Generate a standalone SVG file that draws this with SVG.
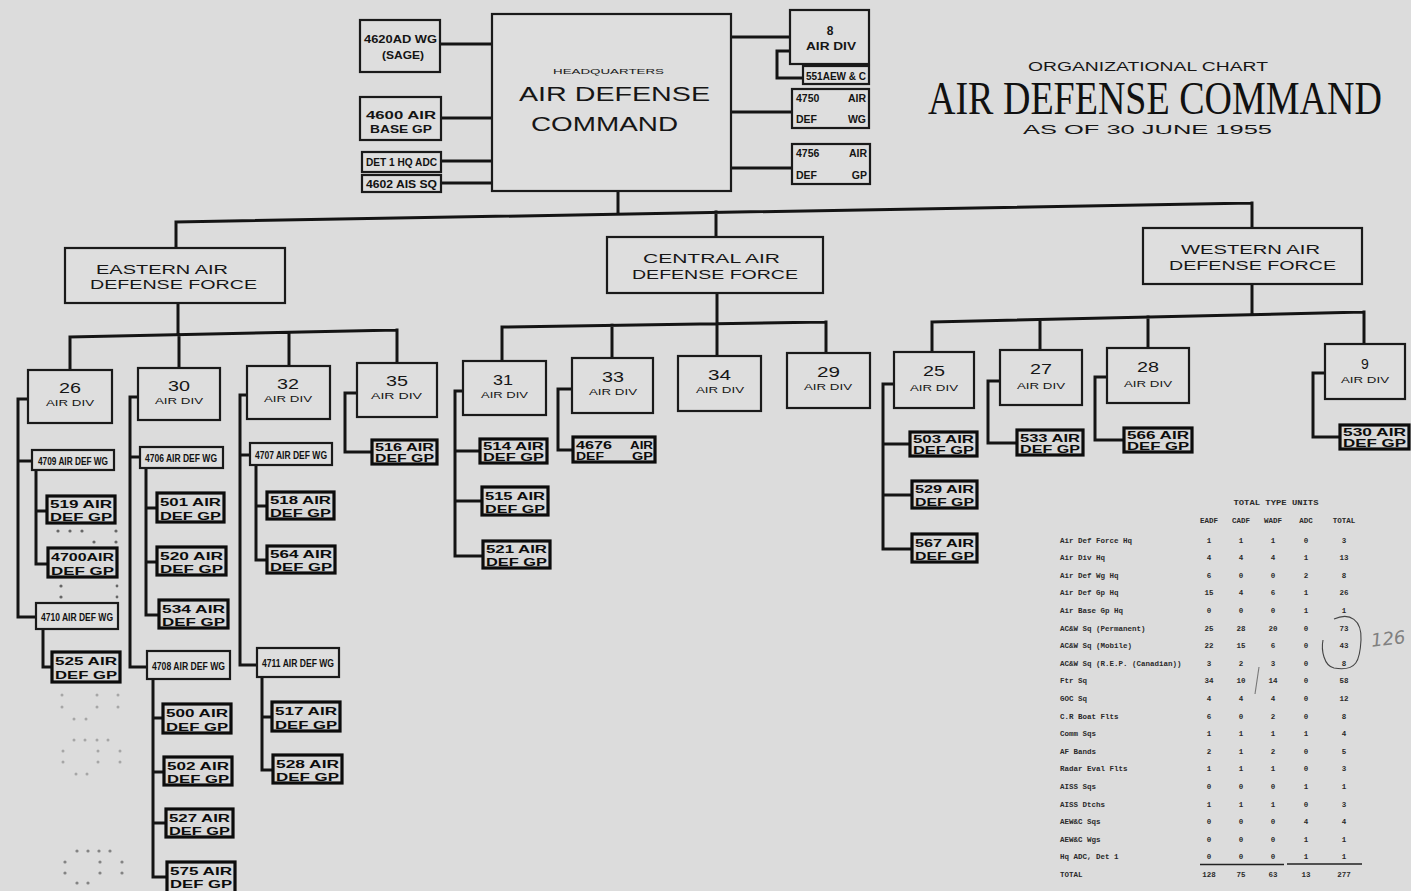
<svg xmlns="http://www.w3.org/2000/svg" width="1411" height="891" viewBox="0 0 1411 891">
<style>
.ln{fill:none;stroke:#141414;stroke-width:3;stroke-linecap:square;stroke-linejoin:miter}
.bx{fill:#dedede;stroke:#1a1a1a;stroke-width:2.2}
.gp{fill:#d9d9d9;stroke:#0c0c0c;stroke-width:3.2}
.t{font-family:"Liberation Sans",Arial,sans-serif;fill:#161616}
.num{font-size:14px}
.dv{font-size:9.5px}
.lb{font-size:13.5px}
.g1{font-family:"Liberation Sans",Arial,sans-serif;font-weight:bold;font-size:11.6px;fill:#0c0c0c}
.g2{font-family:"Liberation Sans",Arial,sans-serif;font-weight:bold;font-size:10.6px;fill:#0c0c0c}
.wg{font-family:"Liberation Sans Narrow","Liberation Sans",Arial,sans-serif;font-weight:bold;font-size:11px;fill:#111}
.sm{font-family:"Liberation Sans",Arial,sans-serif;font-size:10.5px;fill:#141414}
.tb{font-family:"Liberation Mono","Courier New",monospace;font-weight:bold;font-size:7.5px;fill:#2a2a2a}
.dot{fill:#666}
</style>
<rect width="1411" height="891" fill="#dcdcdc"/>

<g id="connectors">
<path class="ln" d="M440,44H492 M441,118H492 M441,161H492 M441,183H492 M731,37H790 M790,51H777V78H803 M731,112H792 M731,168H792 M618,191V214 M176,222L1252,203 M176,222V248 M716,212V237 M1252,203V228"/>
<path class="ln" d="M178,303V334 M70,337L397,330 M70,337V370 M179,335V368 M289,332.6V366 M397,330V363"/>
<path class="ln" d="M28,399H18V617H36 M18,461H32 M36,470V564H48 M36,511H47 M43,629V667H52"/>
<path class="ln" d="M138,397H130V667H147 M130,457H140 M146,468V615H159 M146,508H157 M146,562H157 M153,679V877H167 M153,718H163 M153,772H164 M153,823H166"/>
<path class="ln" d="M247,395H240V665H257 M240,455H250 M256,465V560H267 M256,506H267 M262,677V770H273 M262,717H272"/>
<path class="ln" d="M357,393H345V452H372"/>
<path class="ln" d="M717,293V325 M502,327L826,322 M502,327V361 M612,325.3V358 M717,323.7V356 M826,322V353 M463,391H455V556H483 M455,451H480 M455,501H482 M572,389H558V450H573"/>
<path class="ln" d="M1252,284V314 M932,322L1364,312 M932,322V352 M1040,319.5V350 M1148,317V348 M1364,312V344 M894,384H883V549H912 M883,444H910 M883,495H912 M1000,381H988V443H1017 M1107,377H1095V440H1124 M1325,373H1313V437H1340"/>
</g>

<g id="hq"><rect class="bx" x="492" y="14" width="239" height="177"/>
<text class="t" x="553" y="74" font-size="8" textLength="111" lengthAdjust="spacingAndGlyphs">HEADQUARTERS</text>
<text class="t" x="519" y="101" font-size="20" textLength="191" lengthAdjust="spacingAndGlyphs">AIR DEFENSE</text>
<text class="t" x="531" y="131" font-size="20" textLength="147" lengthAdjust="spacingAndGlyphs">COMMAND</text></g>

<g id="wg4620"><rect class="bx" x="360" y="20" width="80" height="52"/>
<text class="sm" x="364" y="43" font-weight="bold" textLength="73" lengthAdjust="spacingAndGlyphs">4620AD WG</text>
<text class="sm" x="382" y="59" font-weight="bold" textLength="42" lengthAdjust="spacingAndGlyphs">(SAGE)</text></g>
<g id="gp4600"><rect class="bx" x="360" y="97" width="81" height="43"/>
<text class="sm" x="366" y="119" font-weight="bold" textLength="70" lengthAdjust="spacingAndGlyphs">4600 AIR</text>
<text class="sm" x="370" y="133" font-weight="bold" textLength="62" lengthAdjust="spacingAndGlyphs">BASE GP</text></g>
<g id="det1"><rect class="bx" x="362" y="152" width="79" height="20"/>
<text class="wg" x="366" y="166" textLength="71" lengthAdjust="spacingAndGlyphs">DET 1 HQ ADC</text></g>
<g id="sq4602"><rect class="bx" x="362" y="175" width="79" height="17"/>
<text class="wg" x="366" y="188" font-size="10.5" textLength="71" lengthAdjust="spacingAndGlyphs">4602 AIS SQ</text></g>

<g id="div8"><rect class="bx" x="790" y="10" width="79" height="54"/>
<text class="t" x="830" y="35" font-size="12" font-weight="bold" text-anchor="middle">8</text>
<text class="t" x="806" y="50" font-size="11" font-weight="bold" textLength="50" lengthAdjust="spacingAndGlyphs">AIR DIV</text></g>
<g id="aew551"><rect class="bx" x="803" y="66" width="66" height="18"/>
<text class="wg" x="806" y="80" font-size="10.5" textLength="60" lengthAdjust="spacingAndGlyphs">551AEW &amp; C</text></g>
<g id="wg4750"><rect class="bx" x="792" y="89" width="77" height="39"/>
<text class="sm" x="796" y="102" font-weight="bold">4750</text><text class="sm" x="866" y="102" font-weight="bold" text-anchor="end">AIR</text>
<text class="sm" x="796" y="123" font-weight="bold">DEF</text><text class="sm" x="866" y="123" font-weight="bold" text-anchor="end">WG</text></g>
<g id="gp4756"><rect class="bx" x="792" y="144" width="78" height="40"/>
<text class="sm" x="796" y="157" font-weight="bold">4756</text><text class="sm" x="867" y="157" font-weight="bold" text-anchor="end">AIR</text>
<text class="sm" x="796" y="179" font-weight="bold">DEF</text><text class="sm" x="867" y="179" font-weight="bold" text-anchor="end">GP</text></g>

<g id="title">
<text class="t" x="1028" y="70.5" font-size="12.5" textLength="240" lengthAdjust="spacingAndGlyphs">ORGANIZATIONAL CHART</text>
<text transform="translate(928 114) scale(1 1.2)" x="0" y="0" font-family="'Liberation Serif','Times New Roman',serif" font-size="38" fill="#111">AIR DEFENSE COMMAND</text>
<text class="t" x="1023" y="134" font-size="13.5" textLength="249" lengthAdjust="spacingAndGlyphs">AS OF 30 JUNE 1955</text>
</g>

<g id="eadf"><rect class="bx" x="65" y="248" width="220" height="55"/>
<text class="t lb" x="96" y="274" textLength="132" lengthAdjust="spacingAndGlyphs">EASTERN AIR</text>
<text class="t lb" x="90" y="289" textLength="167" lengthAdjust="spacingAndGlyphs">DEFENSE FORCE</text></g>
<g id="cadf"><rect class="bx" x="607" y="237" width="216" height="56"/>
<text class="t lb" x="643" y="263" textLength="137" lengthAdjust="spacingAndGlyphs">CENTRAL AIR</text>
<text class="t lb" x="632" y="279" textLength="166" lengthAdjust="spacingAndGlyphs">DEFENSE FORCE</text></g>
<g id="wadf"><rect class="bx" x="1143" y="228" width="219" height="56"/>
<text class="t lb" x="1181" y="254" textLength="139" lengthAdjust="spacingAndGlyphs">WESTERN AIR</text>
<text class="t lb" x="1169" y="270" textLength="167" lengthAdjust="spacingAndGlyphs">DEFENSE FORCE</text></g>

<g id="div26"><rect class="bx" x="28" y="370" width="84" height="53"/><text class="t num" x="59" y="393" textLength="22" lengthAdjust="spacingAndGlyphs">26</text><text class="t dv" x="46" y="406" textLength="48" lengthAdjust="spacingAndGlyphs">AIR DIV</text></g>
<g id="div30"><rect class="bx" x="138" y="368" width="82" height="52"/><text class="t num" x="168" y="391" textLength="22" lengthAdjust="spacingAndGlyphs">30</text><text class="t dv" x="155" y="404" textLength="48" lengthAdjust="spacingAndGlyphs">AIR DIV</text></g>
<g id="div32"><rect class="bx" x="247" y="366" width="83" height="53"/><text class="t num" x="277" y="389" textLength="22" lengthAdjust="spacingAndGlyphs">32</text><text class="t dv" x="264" y="402" textLength="48" lengthAdjust="spacingAndGlyphs">AIR DIV</text></g>
<g id="div35"><rect class="bx" x="357" y="363" width="80" height="54"/><text class="t num" x="386" y="386" textLength="22" lengthAdjust="spacingAndGlyphs">35</text><text class="t dv" x="371" y="399" textLength="51" lengthAdjust="spacingAndGlyphs">AIR DIV</text></g>
<g id="div31"><rect class="bx" x="463" y="361" width="83" height="54"/><text class="t num" x="493" y="385" textLength="20" lengthAdjust="spacingAndGlyphs">31</text><text class="t dv" x="481" y="398" textLength="47" lengthAdjust="spacingAndGlyphs">AIR DIV</text></g>
<g id="div33"><rect class="bx" x="572" y="358" width="81" height="55"/><text class="t num" x="602" y="382" textLength="22" lengthAdjust="spacingAndGlyphs">33</text><text class="t dv" x="589" y="395" textLength="48" lengthAdjust="spacingAndGlyphs">AIR DIV</text></g>
<g id="div34"><rect class="bx" x="678" y="356" width="83" height="55"/><text class="t num" x="708" y="380" textLength="23" lengthAdjust="spacingAndGlyphs">34</text><text class="t dv" x="696" y="393" textLength="48" lengthAdjust="spacingAndGlyphs">AIR DIV</text></g>
<g id="div29"><rect class="bx" x="787" y="353" width="83" height="55"/><text class="t num" x="817" y="377" textLength="23" lengthAdjust="spacingAndGlyphs">29</text><text class="t dv" x="804" y="390" textLength="48" lengthAdjust="spacingAndGlyphs">AIR DIV</text></g>
<g id="div25"><rect class="bx" x="894" y="352" width="80" height="56"/><text class="t num" x="923" y="376" textLength="22" lengthAdjust="spacingAndGlyphs">25</text><text class="t dv" x="910" y="391" textLength="48" lengthAdjust="spacingAndGlyphs">AIR DIV</text></g>
<g id="div27"><rect class="bx" x="1000" y="350" width="82" height="55"/><text class="t num" x="1030" y="374" textLength="22" lengthAdjust="spacingAndGlyphs">27</text><text class="t dv" x="1017" y="389" textLength="48" lengthAdjust="spacingAndGlyphs">AIR DIV</text></g>
<g id="div28"><rect class="bx" x="1107" y="348" width="82" height="55"/><text class="t num" x="1137" y="372" textLength="22" lengthAdjust="spacingAndGlyphs">28</text><text class="t dv" x="1124" y="387" textLength="48" lengthAdjust="spacingAndGlyphs">AIR DIV</text></g>
<g id="div9"><rect class="bx" x="1325" y="344" width="80" height="55"/><text class="t num" x="1365" y="369" text-anchor="middle">9</text><text class="t dv" x="1341" y="383" textLength="48" lengthAdjust="spacingAndGlyphs">AIR DIV</text></g>

<g id="wg4709"><rect class="bx" x="32" y="450" width="82" height="20"/><text class="wg" x="38" y="465" textLength="70" lengthAdjust="spacingAndGlyphs">4709 AIR DEF WG</text></g>
<g id="wg4710"><rect class="bx" x="36" y="603" width="82" height="26"/><text class="wg" x="41" y="621" textLength="72" lengthAdjust="spacingAndGlyphs">4710 AIR DEF WG</text></g>
<g id="wg4706"><rect class="bx" x="140" y="447" width="83" height="21"/><text class="wg" x="145" y="462" textLength="72" lengthAdjust="spacingAndGlyphs">4706 AIR DEF WG</text></g>
<g id="wg4708"><rect class="bx" x="147" y="651" width="83" height="28"/><text class="wg" x="152" y="670" textLength="73" lengthAdjust="spacingAndGlyphs">4708 AIR DEF WG</text></g>
<g id="wg4707"><rect class="bx" x="250" y="443" width="82" height="22"/><text class="wg" x="255" y="459" textLength="72" lengthAdjust="spacingAndGlyphs">4707 AIR DEF WG</text></g>
<g id="wg4711"><rect class="bx" x="257" y="648" width="82" height="29"/><text class="wg" x="262" y="667" textLength="72" lengthAdjust="spacingAndGlyphs">4711 AIR DEF WG</text></g>

<g id="gp519"><rect class="gp" x="47" y="496" width="68" height="27"/><text class="g1" x="50" y="508" textLength="62" lengthAdjust="spacingAndGlyphs">519 AIR</text><text class="g1" x="50" y="521" textLength="62" lengthAdjust="spacingAndGlyphs">DEF GP</text></g>
<g id="gp4700"><rect class="gp" x="48" y="548" width="69" height="29"/><text class="g1" x="51" y="561" textLength="63" lengthAdjust="spacingAndGlyphs">4700AIR</text><text class="g1" x="51" y="575" textLength="63" lengthAdjust="spacingAndGlyphs">DEF GP</text></g>
<g id="gp525"><rect class="gp" x="52" y="652" width="68" height="30"/><text class="g1" x="55" y="665" textLength="62" lengthAdjust="spacingAndGlyphs">525 AIR</text><text class="g1" x="55" y="679" textLength="62" lengthAdjust="spacingAndGlyphs">DEF GP</text></g>
<g id="gp501"><rect class="gp" x="157" y="493" width="67" height="29"/><text class="g1" x="160" y="506" textLength="61" lengthAdjust="spacingAndGlyphs">501 AIR</text><text class="g1" x="160" y="520" textLength="61" lengthAdjust="spacingAndGlyphs">DEF GP</text></g>
<g id="gp520"><rect class="gp" x="157" y="547" width="69" height="28"/><text class="g1" x="160" y="560" textLength="63" lengthAdjust="spacingAndGlyphs">520 AIR</text><text class="g1" x="160" y="573" textLength="63" lengthAdjust="spacingAndGlyphs">DEF GP</text></g>
<g id="gp534"><rect class="gp" x="159" y="600" width="69" height="28"/><text class="g1" x="162" y="613" textLength="63" lengthAdjust="spacingAndGlyphs">534 AIR</text><text class="g1" x="162" y="626" textLength="63" lengthAdjust="spacingAndGlyphs">DEF GP</text></g>
<g id="gp500"><rect class="gp" x="163" y="704" width="68" height="29"/><text class="g1" x="166" y="717" textLength="62" lengthAdjust="spacingAndGlyphs">500 AIR</text><text class="g1" x="166" y="731" textLength="62" lengthAdjust="spacingAndGlyphs">DEF GP</text></g>
<g id="gp502"><rect class="gp" x="164" y="757" width="68" height="28"/><text class="g1" x="167" y="770" textLength="62" lengthAdjust="spacingAndGlyphs">502 AIR</text><text class="g1" x="167" y="783" textLength="62" lengthAdjust="spacingAndGlyphs">DEF GP</text></g>
<g id="gp527"><rect class="gp" x="166" y="809" width="67" height="28"/><text class="g1" x="169" y="822" textLength="61" lengthAdjust="spacingAndGlyphs">527 AIR</text><text class="g1" x="169" y="835" textLength="61" lengthAdjust="spacingAndGlyphs">DEF GP</text></g>
<g id="gp575"><rect class="gp" x="167" y="862" width="68" height="31"/><text class="g1" x="170" y="875" textLength="62" lengthAdjust="spacingAndGlyphs">575 AIR</text><text class="g1" x="170" y="888" textLength="62" lengthAdjust="spacingAndGlyphs">DEF GP</text></g>
<g id="gp518"><rect class="gp" x="267" y="492" width="67" height="27"/><text class="g1" x="270" y="504" textLength="61" lengthAdjust="spacingAndGlyphs">518 AIR</text><text class="g1" x="270" y="517" textLength="61" lengthAdjust="spacingAndGlyphs">DEF GP</text></g>
<g id="gp564"><rect class="gp" x="267" y="546" width="68" height="27"/><text class="g1" x="270" y="558" textLength="62" lengthAdjust="spacingAndGlyphs">564 AIR</text><text class="g1" x="270" y="571" textLength="62" lengthAdjust="spacingAndGlyphs">DEF GP</text></g>
<g id="gp517"><rect class="gp" x="272" y="702" width="68" height="29"/><text class="g1" x="275" y="715" textLength="62" lengthAdjust="spacingAndGlyphs">517 AIR</text><text class="g1" x="275" y="729" textLength="62" lengthAdjust="spacingAndGlyphs">DEF GP</text></g>
<g id="gp528"><rect class="gp" x="273" y="755" width="69" height="28"/><text class="g1" x="276" y="768" textLength="63" lengthAdjust="spacingAndGlyphs">528 AIR</text><text class="g1" x="276" y="781" textLength="63" lengthAdjust="spacingAndGlyphs">DEF GP</text></g>
<g id="gp516"><rect class="gp" x="372" y="440" width="65" height="24"/><text class="g2" x="375" y="451" textLength="59" lengthAdjust="spacingAndGlyphs">516 AIR</text><text class="g2" x="375" y="462" textLength="59" lengthAdjust="spacingAndGlyphs">DEF GP</text></g>
<g id="gp514"><rect class="gp" x="480" y="439" width="67" height="24"/><text class="g2" x="483" y="450" textLength="61" lengthAdjust="spacingAndGlyphs">514 AIR</text><text class="g2" x="483" y="461" textLength="61" lengthAdjust="spacingAndGlyphs">DEF GP</text></g>
<g id="gp515"><rect class="gp" x="482" y="487" width="66" height="28"/><text class="g1" x="485" y="500" textLength="60" lengthAdjust="spacingAndGlyphs">515 AIR</text><text class="g1" x="485" y="513" textLength="60" lengthAdjust="spacingAndGlyphs">DEF GP</text></g>
<g id="gp521"><rect class="gp" x="483" y="541" width="67" height="27"/><text class="g1" x="486" y="553" textLength="61" lengthAdjust="spacingAndGlyphs">521 AIR</text><text class="g1" x="486" y="566" textLength="61" lengthAdjust="spacingAndGlyphs">DEF GP</text></g>
<g id="gp4676"><rect class="gp" x="573" y="437" width="82" height="25"/><text class="g2" x="576" y="449" textLength="36" lengthAdjust="spacingAndGlyphs">4676</text><text class="g2" x="630" y="449" textLength="23" lengthAdjust="spacingAndGlyphs">AIR</text><text class="g2" x="576" y="460" textLength="28" lengthAdjust="spacingAndGlyphs">DEF</text><text class="g2" x="632" y="460" textLength="21" lengthAdjust="spacingAndGlyphs">GP</text></g>
<g id="gp503"><rect class="gp" x="910" y="432" width="67" height="24"/><text class="g2" x="913" y="443" textLength="61" lengthAdjust="spacingAndGlyphs">503 AIR</text><text class="g2" x="913" y="454" textLength="61" lengthAdjust="spacingAndGlyphs">DEF GP</text></g>
<g id="gp529"><rect class="gp" x="912" y="481" width="65" height="27"/><text class="g1" x="915" y="493" textLength="59" lengthAdjust="spacingAndGlyphs">529 AIR</text><text class="g1" x="915" y="506" textLength="59" lengthAdjust="spacingAndGlyphs">DEF GP</text></g>
<g id="gp567"><rect class="gp" x="912" y="534" width="65" height="28"/><text class="g1" x="915" y="547" textLength="59" lengthAdjust="spacingAndGlyphs">567 AIR</text><text class="g1" x="915" y="560" textLength="59" lengthAdjust="spacingAndGlyphs">DEF GP</text></g>
<g id="gp533"><rect class="gp" x="1017" y="430" width="66" height="25"/><text class="g2" x="1020" y="442" textLength="60" lengthAdjust="spacingAndGlyphs">533 AIR</text><text class="g2" x="1020" y="453" textLength="60" lengthAdjust="spacingAndGlyphs">DEF GP</text></g>
<g id="gp566"><rect class="gp" x="1124" y="428" width="68" height="24"/><text class="g2" x="1127" y="439" textLength="62" lengthAdjust="spacingAndGlyphs">566 AIR</text><text class="g2" x="1127" y="450" textLength="62" lengthAdjust="spacingAndGlyphs">DEF GP</text></g>
<g id="gp530"><rect class="gp" x="1340" y="425" width="69" height="24"/><text class="g2" x="1343" y="436" textLength="63" lengthAdjust="spacingAndGlyphs">530 AIR</text><text class="g2" x="1343" y="447" textLength="63" lengthAdjust="spacingAndGlyphs">DEF GP</text></g>

<g id="table">
<text class="tb" x="1276" y="505" text-anchor="middle" textLength="85" lengthAdjust="spacingAndGlyphs">TOTAL TYPE UNITS</text>
<text class="tb" y="523" text-anchor="middle"><tspan x="1209">EADF</tspan><tspan x="1241">CADF</tspan><tspan x="1273">WADF</tspan><tspan x="1306">ADC</tspan><tspan x="1344">TOTAL</tspan></text>
<text class="tb" y="542.5"><tspan x="1060">Air Def Force Hq</tspan><tspan x="1209" text-anchor="middle">1</tspan><tspan x="1241" text-anchor="middle">1</tspan><tspan x="1273" text-anchor="middle">1</tspan><tspan x="1306" text-anchor="middle">0</tspan><tspan x="1344" text-anchor="middle">3</tspan></text>
<text class="tb" y="560.1"><tspan x="1060">Air Div Hq</tspan><tspan x="1209" text-anchor="middle">4</tspan><tspan x="1241" text-anchor="middle">4</tspan><tspan x="1273" text-anchor="middle">4</tspan><tspan x="1306" text-anchor="middle">1</tspan><tspan x="1344" text-anchor="middle">13</tspan></text>
<text class="tb" y="577.7"><tspan x="1060">Air Def Wg Hq</tspan><tspan x="1209" text-anchor="middle">6</tspan><tspan x="1241" text-anchor="middle">0</tspan><tspan x="1273" text-anchor="middle">0</tspan><tspan x="1306" text-anchor="middle">2</tspan><tspan x="1344" text-anchor="middle">8</tspan></text>
<text class="tb" y="595.3"><tspan x="1060">Air Def Gp Hq</tspan><tspan x="1209" text-anchor="middle">15</tspan><tspan x="1241" text-anchor="middle">4</tspan><tspan x="1273" text-anchor="middle">6</tspan><tspan x="1306" text-anchor="middle">1</tspan><tspan x="1344" text-anchor="middle">26</tspan></text>
<text class="tb" y="612.9"><tspan x="1060">Air Base Gp Hq</tspan><tspan x="1209" text-anchor="middle">0</tspan><tspan x="1241" text-anchor="middle">0</tspan><tspan x="1273" text-anchor="middle">0</tspan><tspan x="1306" text-anchor="middle">1</tspan><tspan x="1344" text-anchor="middle">1</tspan></text>
<text class="tb" y="630.5"><tspan x="1060">AC&amp;W Sq (Permanent)</tspan><tspan x="1209" text-anchor="middle">25</tspan><tspan x="1241" text-anchor="middle">28</tspan><tspan x="1273" text-anchor="middle">20</tspan><tspan x="1306" text-anchor="middle">0</tspan><tspan x="1344" text-anchor="middle">73</tspan></text>
<text class="tb" y="648.1"><tspan x="1060">AC&amp;W Sq (Mobile)</tspan><tspan x="1209" text-anchor="middle">22</tspan><tspan x="1241" text-anchor="middle">15</tspan><tspan x="1273" text-anchor="middle">6</tspan><tspan x="1306" text-anchor="middle">0</tspan><tspan x="1344" text-anchor="middle">43</tspan></text>
<text class="tb" y="665.7"><tspan x="1060">AC&amp;W Sq (R.E.P. (Canadian))</tspan><tspan x="1209" text-anchor="middle">3</tspan><tspan x="1241" text-anchor="middle">2</tspan><tspan x="1273" text-anchor="middle">3</tspan><tspan x="1306" text-anchor="middle">0</tspan><tspan x="1344" text-anchor="middle">8</tspan></text>
<text class="tb" y="683.3"><tspan x="1060">Ftr Sq</tspan><tspan x="1209" text-anchor="middle">34</tspan><tspan x="1241" text-anchor="middle">10</tspan><tspan x="1273" text-anchor="middle">14</tspan><tspan x="1306" text-anchor="middle">0</tspan><tspan x="1344" text-anchor="middle">58</tspan></text>
<text class="tb" y="700.9"><tspan x="1060">GOC Sq</tspan><tspan x="1209" text-anchor="middle">4</tspan><tspan x="1241" text-anchor="middle">4</tspan><tspan x="1273" text-anchor="middle">4</tspan><tspan x="1306" text-anchor="middle">0</tspan><tspan x="1344" text-anchor="middle">12</tspan></text>
<text class="tb" y="718.5"><tspan x="1060">C.R Boat Flts</tspan><tspan x="1209" text-anchor="middle">6</tspan><tspan x="1241" text-anchor="middle">0</tspan><tspan x="1273" text-anchor="middle">2</tspan><tspan x="1306" text-anchor="middle">0</tspan><tspan x="1344" text-anchor="middle">8</tspan></text>
<text class="tb" y="736.1"><tspan x="1060">Comm Sqs</tspan><tspan x="1209" text-anchor="middle">1</tspan><tspan x="1241" text-anchor="middle">1</tspan><tspan x="1273" text-anchor="middle">1</tspan><tspan x="1306" text-anchor="middle">1</tspan><tspan x="1344" text-anchor="middle">4</tspan></text>
<text class="tb" y="753.7"><tspan x="1060">AF Bands</tspan><tspan x="1209" text-anchor="middle">2</tspan><tspan x="1241" text-anchor="middle">1</tspan><tspan x="1273" text-anchor="middle">2</tspan><tspan x="1306" text-anchor="middle">0</tspan><tspan x="1344" text-anchor="middle">5</tspan></text>
<text class="tb" y="771.3"><tspan x="1060">Radar Eval Flts</tspan><tspan x="1209" text-anchor="middle">1</tspan><tspan x="1241" text-anchor="middle">1</tspan><tspan x="1273" text-anchor="middle">1</tspan><tspan x="1306" text-anchor="middle">0</tspan><tspan x="1344" text-anchor="middle">3</tspan></text>
<text class="tb" y="788.9"><tspan x="1060">AISS Sqs</tspan><tspan x="1209" text-anchor="middle">0</tspan><tspan x="1241" text-anchor="middle">0</tspan><tspan x="1273" text-anchor="middle">0</tspan><tspan x="1306" text-anchor="middle">1</tspan><tspan x="1344" text-anchor="middle">1</tspan></text>
<text class="tb" y="806.5"><tspan x="1060">AISS Dtchs</tspan><tspan x="1209" text-anchor="middle">1</tspan><tspan x="1241" text-anchor="middle">1</tspan><tspan x="1273" text-anchor="middle">1</tspan><tspan x="1306" text-anchor="middle">0</tspan><tspan x="1344" text-anchor="middle">3</tspan></text>
<text class="tb" y="824.1"><tspan x="1060">AEW&amp;C Sqs</tspan><tspan x="1209" text-anchor="middle">0</tspan><tspan x="1241" text-anchor="middle">0</tspan><tspan x="1273" text-anchor="middle">0</tspan><tspan x="1306" text-anchor="middle">4</tspan><tspan x="1344" text-anchor="middle">4</tspan></text>
<text class="tb" y="841.7"><tspan x="1060">AEW&amp;C Wgs</tspan><tspan x="1209" text-anchor="middle">0</tspan><tspan x="1241" text-anchor="middle">0</tspan><tspan x="1273" text-anchor="middle">0</tspan><tspan x="1306" text-anchor="middle">1</tspan><tspan x="1344" text-anchor="middle">1</tspan></text>
<text class="tb" y="859.3"><tspan x="1060">Hq ADC, Det 1</tspan><tspan x="1209" text-anchor="middle">0</tspan><tspan x="1241" text-anchor="middle">0</tspan><tspan x="1273" text-anchor="middle">0</tspan><tspan x="1306" text-anchor="middle">1</tspan><tspan x="1344" text-anchor="middle">1</tspan></text>
<path d="M1200,864.5H1284 M1287,864H1362" stroke="#222" stroke-width="1.6" fill="none"/>
<text class="tb" y="876.9"><tspan x="1060">TOTAL</tspan><tspan x="1209" text-anchor="middle">128</tspan><tspan x="1241" text-anchor="middle">75</tspan><tspan x="1273" text-anchor="middle">63</tspan><tspan x="1306" text-anchor="middle">13</tspan><tspan x="1344" text-anchor="middle">277</tspan></text>
</g>

<g id="annotations" fill="none" stroke="#444" stroke-width="1.1">
<path d="M1334,619 C1350,612 1362,620 1361,640 C1360,660 1357,672 1334,668 C1324,666 1321,650 1323,640"/>
<path d="M1259,667 L1255,694" stroke="#777"/>
<text x="1371" y="645" font-family="'DejaVu Sans',sans-serif" font-style="italic" font-size="18" fill="#808080" stroke="none" transform="rotate(-6 1388 638)">126</text>
</g>

<g id="specks">
<circle class="dot" cx="58" cy="531" r="1.6"/><circle class="dot" cx="70" cy="531" r="1.6"/><circle class="dot" cx="82" cy="531" r="1.6"/><circle class="dot" cx="116" cy="531" r="1.6"/><circle class="dot" cx="94" cy="542" r="1.6"/><circle class="dot" cx="116" cy="542" r="1.6"/>
<circle class="dot" cx="61" cy="586" r="1.6"/><circle class="dot" cx="61" cy="597" r="1.6"/><circle class="dot" cx="117" cy="586" r="1.4"/><circle class="dot" cx="117" cy="597" r="1.4"/>
<g opacity="0.45"><circle class="dot" cx="62" cy="695" r="1.5"/><circle class="dot" cx="62" cy="707" r="1.5"/><circle class="dot" cx="97" cy="695" r="1.5"/><circle class="dot" cx="97" cy="707" r="1.5"/><circle class="dot" cx="118" cy="695" r="1.5"/><circle class="dot" cx="118" cy="707" r="1.5"/><circle class="dot" cx="74" cy="719" r="1.5"/><circle class="dot" cx="86" cy="719" r="1.5"/>
<circle class="dot" cx="74" cy="740" r="1.5"/><circle class="dot" cx="85" cy="740" r="1.5"/><circle class="dot" cx="97" cy="740" r="1.5"/><circle class="dot" cx="108" cy="740" r="1.5"/><circle class="dot" cx="63" cy="751" r="1.5"/><circle class="dot" cx="98" cy="751" r="1.5"/><circle class="dot" cx="120" cy="751" r="1.5"/><circle class="dot" cx="63" cy="762" r="1.5"/><circle class="dot" cx="98" cy="762" r="1.5"/><circle class="dot" cx="120" cy="762" r="1.5"/><circle class="dot" cx="76" cy="774" r="1.5"/><circle class="dot" cx="87" cy="774" r="1.5"/></g>
<g opacity="0.75"><circle class="dot" cx="77" cy="851" r="1.6"/><circle class="dot" cx="88" cy="851" r="1.6"/><circle class="dot" cx="99" cy="851" r="1.6"/><circle class="dot" cx="110" cy="851" r="1.6"/><circle class="dot" cx="65" cy="862" r="1.6"/><circle class="dot" cx="100" cy="862" r="1.6"/><circle class="dot" cx="122" cy="862" r="1.6"/><circle class="dot" cx="65" cy="873" r="1.6"/><circle class="dot" cx="100" cy="873" r="1.6"/><circle class="dot" cx="122" cy="873" r="1.6"/><circle class="dot" cx="77" cy="883" r="1.6"/><circle class="dot" cx="88" cy="883" r="1.6"/></g>
</g>
</svg>
